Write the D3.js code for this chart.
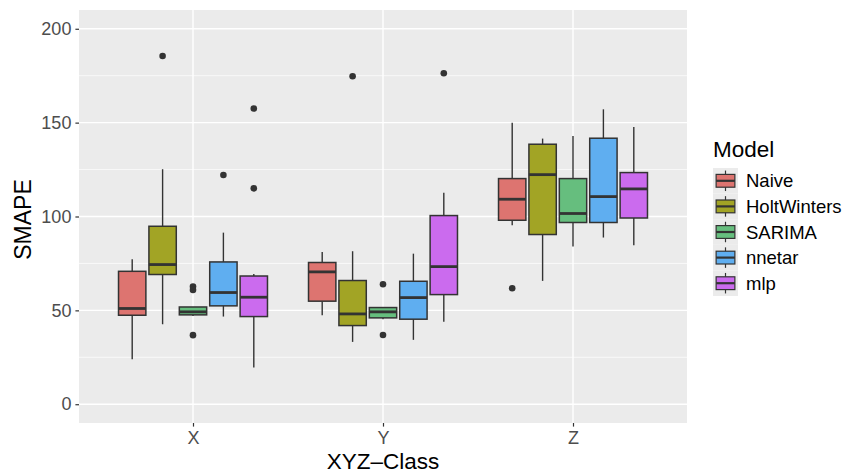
<!DOCTYPE html>
<html>
<head>
<meta charset="utf-8">
<script src="https://cdn.jsdelivr.net/npm/d3@7"></script>
<style>
  body { margin: 0; background: #fff; }
  svg { display: block; font-family: "Liberation Sans", Arial, Helvetica, sans-serif; }
</style>
</head>
<body>
<svg id="chart" width="845" height="473"></svg>
<script>
// Categories and models
var classes = ["X", "Y", "Z"];
var models = ["Naive", "HoltWinters", "SARIMA", "nnetar", "mlp"];
var modelColors = ["#DD7470", "#A2A425", "#66BE7E", "#5FAEF0", "#CB6BEE"];
var yTicks = [0, 50, 100, 150, 200];
var yMinor = [25, 75, 125, 175];

// Box stats per model: [lower whisker, q1, median, q3, upper whisker]
var statsX = [[24.0, 47.4, 51.0, 70.8, 77.2], [42.6, 69.1, 74.4, 94.8, 125.2], [47.0, 47.6, 49.2, 51.8, 51.8], [46.7, 52.4, 59.5, 75.8, 91.4], [19.5, 46.7, 57.0, 68.3, 69.4]];
var statsY = [[47.4, 54.9, 70.5, 75.5, 81.1], [33.2, 41.9, 48.1, 65.9, 81.5], [45.3, 46.0, 49.2, 51.5, 51.5], [34.3, 45.3, 56.8, 65.5, 80.2], [44.0, 58.4, 73.3, 100.5, 112.7]];
var statsZ = [[95.3, 98.0, 109.2, 120.2, 150.0], [65.7, 90.4, 122.3, 138.5, 141.5], [84.0, 96.8, 101.6, 120.2, 142.9], [88.8, 96.8, 110.6, 141.7, 157.1], [84.7, 99.2, 114.7, 123.4, 147.7]];

// Outliers per model
var outliersX = [[], [185.5], [62.7, 60.9, 36.8], [122.1], [157.5, 115.0]];
var outliersY = [[], [174.7], [63.9, 36.9], [], [176.3]];
var outliersZ = [[61.8], [], [], [], []];

var statsByClass = { X: statsX, Y: statsY, Z: statsZ };
var outliersByClass = { X: outliersX, Y: outliersY, Z: outliersZ };

var svg = d3.select("#chart");
var panel = { left: 79, right: 687, top: 10, bottom: 423 };
var ink = "#333333";

var x = d3.scalePoint().domain(classes)
    .range([panel.left, panel.right]).padding(0.6);
var step = x.step();
var dodge = d3.scaleBand().domain(models)
    .range([-0.4 * step, 0.4 * step]);
var boxW = dodge.bandwidth() * 0.9;

var y = d3.scaleLinear().domain([-10, 210])
    .range([panel.bottom, panel.top]);

var color = d3.scaleOrdinal().domain(models).range(modelColors);

// Panel background and grid
svg.append("rect")
    .attr("x", panel.left).attr("y", panel.top)
    .attr("width", panel.right - panel.left)
    .attr("height", panel.bottom - panel.top)
    .attr("fill", "#EBEBEB");

var grid = svg.append("g");
grid.selectAll("line.minor").data(yMinor).enter().append("line")
    .attr("x1", panel.left).attr("x2", panel.right)
    .attr("y1", function(d) { return y(d); })
    .attr("y2", function(d) { return y(d); })
    .attr("stroke", "#fff").attr("stroke-width", 0.7);
grid.selectAll("line.major").data(yTicks).enter().append("line")
    .attr("x1", panel.left).attr("x2", panel.right)
    .attr("y1", function(d) { return y(d); })
    .attr("y2", function(d) { return y(d); })
    .attr("stroke", "#fff").attr("stroke-width", 1.4);
grid.selectAll("line.vmajor").data(classes).enter().append("line")
    .attr("y1", panel.top).attr("y2", panel.bottom)
    .attr("x1", function(d) { return x(d); })
    .attr("x2", function(d) { return x(d); })
    .attr("stroke", "#fff").attr("stroke-width", 1.4);

// Boxes
var boxes = [];
classes.forEach(function(c) {
    models.forEach(function(m, i) {
        var s = statsByClass[c][i];
        boxes.push({
            cls: c, model: m,
            lo: s[0], q1: s[1], med: s[2], q3: s[3], hi: s[4],
            out: outliersByClass[c][i]
        });
    });
});

function cx(d) { return x(d.cls) + dodge(d.model) + dodge.bandwidth() / 2; }

var g = svg.append("g").selectAll("g").data(boxes).enter().append("g");

g.append("line")
    .attr("x1", cx).attr("x2", cx)
    .attr("y1", function(d) { return y(d.hi); })
    .attr("y2", function(d) { return y(d.q3); })
    .attr("stroke", ink).attr("stroke-width", 1.4);
g.append("line")
    .attr("x1", cx).attr("x2", cx)
    .attr("y1", function(d) { return y(d.q1); })
    .attr("y2", function(d) { return y(d.lo); })
    .attr("stroke", ink).attr("stroke-width", 1.4);
g.append("rect")
    .attr("x", function(d) { return cx(d) - boxW / 2; })
    .attr("y", function(d) { return y(d.q3); })
    .attr("width", boxW)
    .attr("height", function(d) { return y(d.q1) - y(d.q3); })
    .attr("fill", function(d) { return color(d.model); })
    .attr("stroke", ink).attr("stroke-width", 1.5);
g.append("line")
    .attr("x1", function(d) { return cx(d) - boxW / 2; })
    .attr("x2", function(d) { return cx(d) + boxW / 2; })
    .attr("y1", function(d) { return y(d.med); })
    .attr("y2", function(d) { return y(d.med); })
    .attr("stroke", ink).attr("stroke-width", 2.8);
g.selectAll("circle").data(function(d) {
    return d.out.map(function(v) { return { v: v, x: cx(d) }; });
}).enter().append("circle")
    .attr("cx", function(o) { return o.x; })
    .attr("cy", function(o) { return y(o.v); })
    .attr("r", 3.3)
    .attr("fill", ink);

// Axes
var yAxis = d3.axisLeft(y).tickValues(yTicks).tickSize(3.6).tickPadding(4);
var yg = svg.append("g").attr("transform", "translate(" + panel.left + ",0)").call(yAxis);
var xAxis = d3.axisBottom(x).tickSize(3.6).tickPadding(3);
var xg = svg.append("g").attr("transform", "translate(0," + panel.bottom + ")").call(xAxis);
[yg, xg].forEach(function(a) {
    a.select(".domain").remove();
    a.selectAll(".tick line").attr("stroke", ink).attr("stroke-width", 1.2);
    a.selectAll(".tick text").attr("fill", "#4D4D4D")
        .style("font-size", "18px")
        .style("font-family", "'Liberation Sans', Arial, Helvetica, sans-serif");
});
xg.selectAll(".tick text").attr("dy", "0.8em");

// Axis titles
svg.append("text")
    .attr("x", (panel.left + panel.right) / 2).attr("y", 469)
    .attr("text-anchor", "middle")
    .style("font-size", "22.5px").attr("fill", "#000")
    .text("XYZ\u2013Class");
svg.append("text")
    .attr("transform", "translate(31," + ((panel.top + panel.bottom) / 2 + 3) + ") rotate(-90)")
    .attr("text-anchor", "middle")
    .style("font-size", "23px").attr("fill", "#000")
    .text("SMAPE");

// Legend
var legend = svg.append("g").attr("transform", "translate(713,168)");
legend.append("text")
    .attr("x", 0).attr("y", -11)
    .style("font-size", "22.5px").attr("fill", "#000")
    .text("Model");
var keyW = 25, keyH = 25.6;
var keys = legend.selectAll("g").data(models).enter().append("g")
    .attr("transform", function(d, i) { return "translate(0," + (i * keyH) + ")"; });
keys.append("rect")
    .attr("width", keyW).attr("height", keyH)
    .attr("fill", "#EBEBEB");
keys.append("line")
    .attr("x1", keyW / 2).attr("x2", keyW / 2)
    .attr("y1", keyH * 0.1).attr("y2", keyH * 0.9)
    .attr("stroke", ink).attr("stroke-width", 1.2);
keys.append("rect")
    .attr("x", keyW * 0.125).attr("y", keyH * 0.25)
    .attr("width", keyW * 0.75).attr("height", keyH * 0.5)
    .attr("fill", function(d) { return color(d); })
    .attr("stroke", ink).attr("stroke-width", 1.2);
keys.append("line")
    .attr("x1", keyW * 0.125).attr("x2", keyW * 0.875)
    .attr("y1", keyH / 2).attr("y2", keyH / 2)
    .attr("stroke", ink).attr("stroke-width", 2.2);
keys.append("text")
    .attr("x", keyW + 8).attr("y", keyH / 2)
    .attr("dy", "0.36em")
    .style("font-size", "18.5px").attr("fill", "#000")
    .text(function(d) { return d; });
</script>
</body>
</html>
